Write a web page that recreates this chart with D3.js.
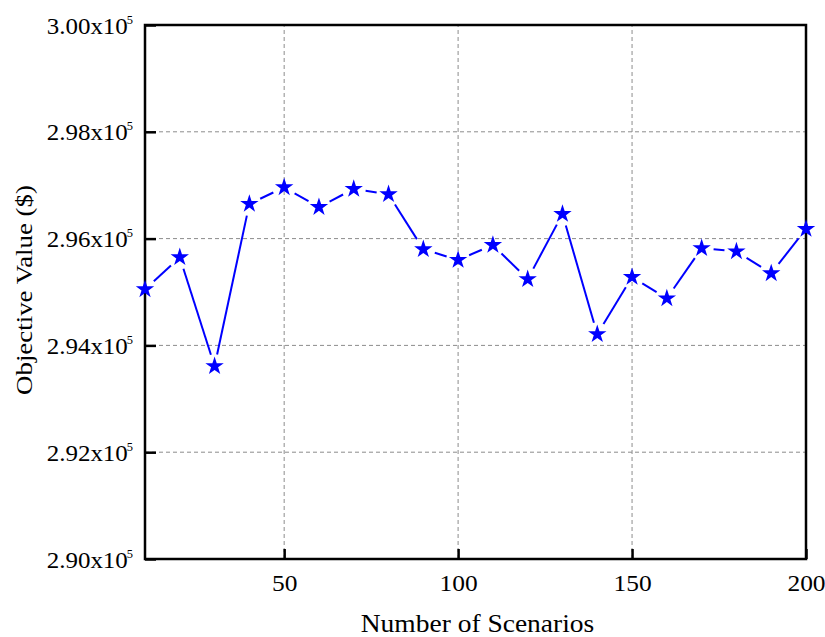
<!DOCTYPE html>
<html>
<head>
<meta charset="utf-8">
<script src="https://cdn.jsdelivr.net/npm/d3@7"></script>
<style>
  html, body { margin: 0; padding: 0; background: #fff; }
</style>
</head>
<body>
<svg id="chart" width="825" height="637"></svg>
<script>
// Number of scenarios (x) and objective value in units of 10^5 $
const scenarios = [10, 20, 30, 40, 50, 60, 70, 80, 90, 100, 110, 120, 130, 140, 150, 160, 170, 180, 190, 200];
const objective = [2.9505, 2.9565, 2.9361, 2.9665, 2.9696, 2.9659, 2.9693, 2.9683, 2.9580, 2.9560,
                   2.9588, 2.9524, 2.9646, 2.9421, 2.9528, 2.9488, 2.9582, 2.9576, 2.9535, 2.9618];
const xTicks = [50, 100, 150, 200];
const yTicks = [2.90, 2.92, 2.94, 2.96, 2.98, 3.00];

const FONT = "Liberation Serif";
const svg = d3.select("#chart");
const margin = { left: 145, right: 19, top: 25, bottom: 78 };
const W = 825, H = 637;
const x = d3.scaleLinear().domain([10, 200]).range([margin.left, W - margin.right]);
const y = d3.scaleLinear().domain([2.90, 3.00]).range([H - margin.bottom, margin.top]);

// Axis titles
svg.append("text")
  .attr("transform", `translate(${(x(10) + x(200)) / 2 + 2},632) scale(1.1,1)`)
  .attr("text-anchor", "middle").attr("font-size", 25).style("font-family", FONT)
  .text("Number of Scenarios");
svg.append("text")
  .attr("transform", `translate(32,${(y(2.90) + y(3.00)) / 2 - 2}) rotate(-90) scale(1.12,1)`)
  .attr("text-anchor", "middle").attr("font-size", 24).style("font-family", FONT)
  .text("Objective Value ($)");

// Dashed grid
const grid = svg.append("g");
grid.selectAll("line.gx").data(xTicks.filter(d => d < 200)).join("line")
  .attr("x1", d => x(d)).attr("x2", d => x(d))
  .attr("y1", y(2.90)).attr("y2", y(3.00))
  .attr("stroke", "#8c8c8c").attr("stroke-width", 1).attr("stroke-dasharray", "4,3");
grid.selectAll("line.gy").data(yTicks.filter(d => d > 2.90 && d < 3.00)).join("line")
  .attr("x1", x(10)).attr("x2", x(200))
  .attr("y1", d => y(d)).attr("y2", d => y(d))
  .attr("stroke", "#8c8c8c").attr("stroke-width", 1).attr("stroke-dasharray", "4,3");

// X axis: ticks point inward, labels below
const xAxis = svg.append("g").attr("transform", `translate(0,${y(2.90)})`)
  .call(d3.axisBottom(x).tickValues(xTicks).tickSizeInner(-10).tickSizeOuter(0).tickPadding(0).tickFormat(d3.format("d")));
xAxis.select(".domain").remove();
xAxis.attr("font-family", null).attr("font-size", null);
xAxis.selectAll(".tick line").attr("stroke", "#000").attr("stroke-width", 2.5);
xAxis.selectAll(".tick text")
  .attr("y", 32).attr("dy", null)
  .attr("transform", "scale(1.06,1)")
  .attr("fill", "#000").attr("font-size", 24).style("font-family", FONT);

// Y axis: ticks point inward, labels as "d.ddx10^5"
const yAxis = svg.append("g").attr("transform", `translate(${x(10)},0)`)
  .call(d3.axisLeft(y).tickValues(yTicks).tickSizeInner(-11).tickSizeOuter(0).tickPadding(0).tickFormat(() => ""));
yAxis.select(".domain").remove();
yAxis.attr("font-family", null).attr("font-size", null);
yAxis.selectAll(".tick line").attr("stroke", "#000").attr("stroke-width", 2.5);
yAxis.selectAll(".tick text").each(function (d) {
  const t = d3.select(this)
    .attr("x", null).attr("dy", null).attr("y", 8)
    .attr("text-anchor", "end")
    .attr("transform", "translate(-12,0) scale(1.04,1)")
    .attr("fill", "#000").attr("font-size", 24).style("font-family", FONT);
  t.append("tspan").text(d3.format(".2f")(d) + "x10");
  t.append("tspan").text("5").attr("font-size", 12).attr("dx", -1).attr("dy", -10);
});

// Frame
svg.append("rect")
  .attr("x", x(10)).attr("y", y(3.00))
  .attr("width", x(200) - x(10)).attr("height", y(2.90) - y(3.00))
  .attr("fill", "none").attr("stroke", "#000").attr("stroke-width", 2.5);

// Line segments, broken around each marker
const pts = scenarios.map((s, i) => [x(s), y(objective[i])]);
const gap = 12;
const segs = d3.pairs(pts).map(([a, b]) => {
  const dx = b[0] - a[0], dy = b[1] - a[1];
  const L = Math.hypot(dx, dy);
  const ux = dx / L, uy = dy / L;
  return [a[0] + ux * gap, a[1] + uy * gap, b[0] - ux * gap, b[1] - uy * gap];
});
svg.append("g").selectAll("line").data(segs).join("line")
  .attr("x1", d => d[0]).attr("y1", d => d[1]).attr("x2", d => d[2]).attr("y2", d => d[3])
  .attr("stroke", "#0000ff").attr("stroke-width", 2);

// Star markers
svg.append("g").selectAll("path").data(pts).join("path")
  .attr("transform", d => `translate(${d[0]},${d[1]})`)
  .attr("d", d3.symbol(d3.symbolStar, 105))
  .attr("fill", "#0000ff");
</script>
</body>
</html>
